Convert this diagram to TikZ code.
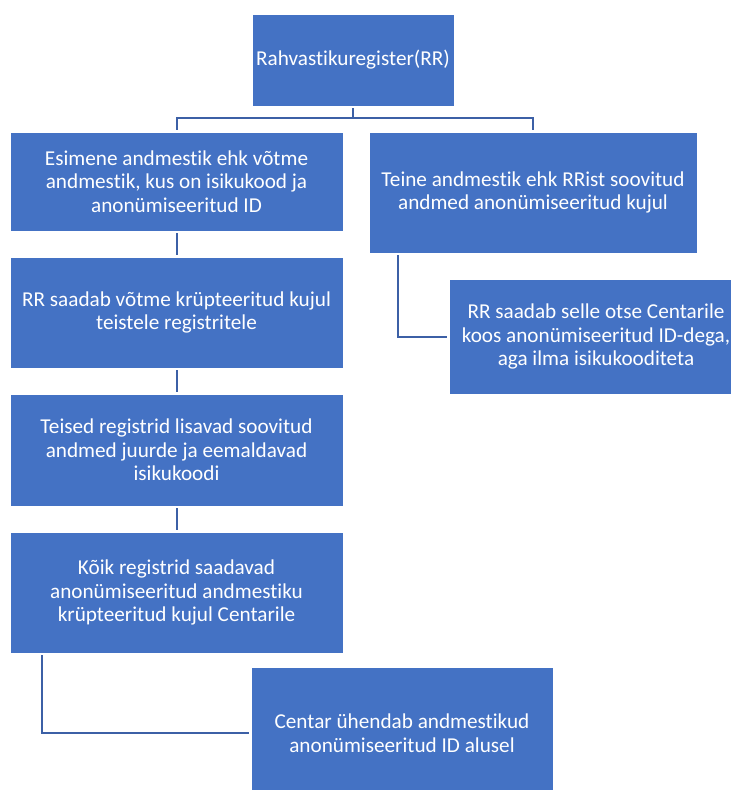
\documentclass[tikz,border=0pt]{standalone}
\usepackage{fontspec}
\setmainfont[Ligatures={NoCommon,NoRare}]{Carlito}
\usetikzlibrary{
    arrows.meta,
    calc,
    positioning
}
\definecolor{boxblue}{RGB}{68,114,196}
\definecolor{lineblue}{RGB}{60,96,166}
\tikzset{
    every picture/.style = {
        x = 1pt,
        y = -1pt
    },
    block/.style = {
        rectangle,
        draw = white,
        line width = 0.8pt,
        fill = boxblue,
        text = white,
        inner sep = 0pt,
        outer sep = 0pt,
        align = center,
        font = \fontsize{21.2}{23.5}\selectfont
    },
    link/.style = {
        draw = lineblue,
        line width = 2pt,
        shorten < = 2pt,
        shorten > = 2pt
    }
}

\begin{document}
\begin{tikzpicture}
    \clip (0,0) rectangle (731,790);
    \node[block, minimum width = 202pt, minimum height = 92pt] (rr) at (353,60) {Rahvastikuregister(RR)};
    \node[block, minimum width = 333pt, minimum height = 99pt] (first) at (176.5,181.5) {Esimene andmestik ehk võtme\\andmestik, kus on isikukood ja\\anonümiseeritud ID};
    \node[block, minimum width = 328pt, minimum height = 121pt] (second) at (533,192.5) {Teine andmestik ehk RRist soovitud\\andmed anonümiseeritud kujul};
    \node[block, minimum width = 333pt, minimum height = 111pt] (key)[below = 26pt of first] {RR saadab võtme krüpteeritud kujul\\teistele registritele};
    \node[block, minimum width = 294pt, minimum height = 115pt] (direct) at (596,336.5) {RR saadab selle otse Centarile\\koos anonümiseeritud ID-dega,\\aga ilma isikukooditeta};
    \node[block, minimum width = 333pt, minimum height = 112pt] (others)[below = 26pt of key] {Teised registrid lisavad soovitud\\andmed juurde ja eemaldavad\\isikukoodi};
    \node[block, minimum width = 333pt, minimum height = 121pt] (all)[below = 26pt of others] {Kõik registrid saadavad\\anonümiseeritud andmestiku\\krüpteeritud kujul Centarile};
    \node[block, minimum width = 302pt, minimum height = 132pt] (centar) at (402,733) {Centar ühendab andmestikud\\anonümiseeritud ID alusel};

    \draw[link] (rr.south) -- ++(0,12) -| (first.north);
    \draw[link] (rr.south) -- ++(0,12) -| (second.north);
    \draw[link] (first) -- (key);
    \draw[link] (key) -- (others);
    \draw[link] (others) -- (all);
    \draw[link] ($(second.south west)+(29,0)$) |- (direct.west);
    \draw[link] ($(all.south west)+(32,0)$) |- (centar.west);
\end{tikzpicture}
\end{document}
